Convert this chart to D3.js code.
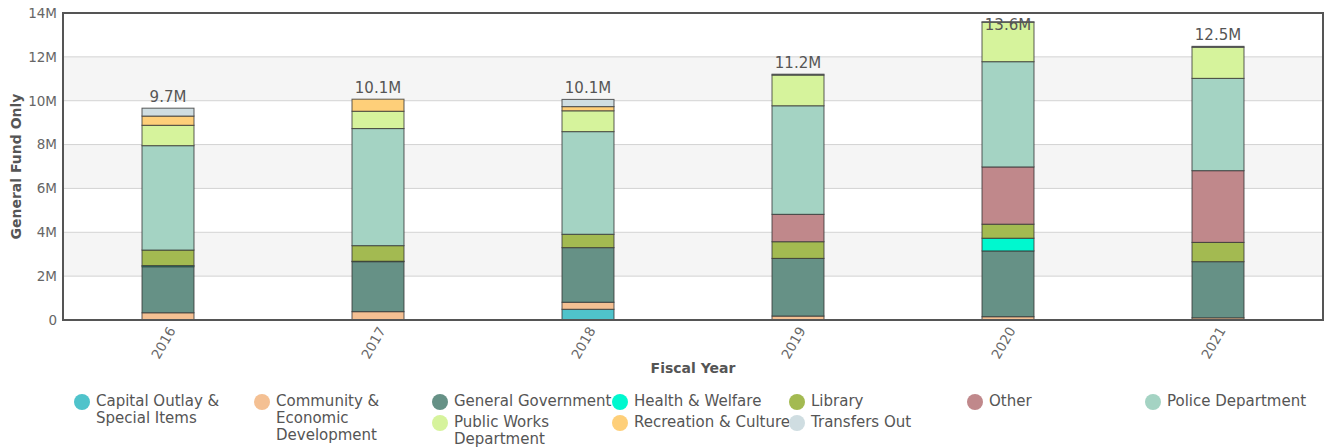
<!DOCTYPE html>
<html><head><meta charset="utf-8">
<script src="https://cdn.jsdelivr.net/npm/d3@7"></script>
<style>
body{margin:0;background:#fff;font-family:"DejaVu Sans",sans-serif;}
svg{display:block}
</style></head>
<body><svg id="c" width="1325" height="447"></svg>
<script>
const years = ["2016","2017","2018","2019","2020","2021"];
const seriesNames = ["Capital Outlay & Special Items","Community & Economic Development","General Government","Health & Welfare","Library","Other","Police Department","Public Works Department","Recreation & Culture","Transfers Out"];
const legendLines = [["Capital Outlay &","Special Items"],["Community &","Economic","Development"],["General Government"],["Health & Welfare"],["Library"],["Other"],["Police Department"],["Public Works","Department"],["Recreation & Culture"],["Transfers Out"]];
const colors = ["#4fc3cb","#f4c093","#669186","#00f8cf","#a3ba51","#c0888b","#a4d3c3","#d6f39c","#fecf79","#cfdde1"];
// values in millions, per year
const capitalOutlay = [0, 0, 0.49, 0, 0, 0];
const community     = [0.33, 0.38, 0.32, 0.18, 0.15, 0.10];
const generalGov    = [2.10, 2.28, 2.49, 2.63, 3.00, 2.56];
const health        = [0.05, 0.02, 0, 0, 0.58, 0];
const library       = [0.71, 0.71, 0.61, 0.76, 0.64, 0.88];
const other         = [0, 0, 0, 1.25, 2.61, 3.27];
const police        = [4.76, 5.34, 4.68, 4.95, 4.80, 4.21];
const publicWorks   = [0.93, 0.79, 0.95, 1.40, 1.80, 1.42];
const recreation    = [0.42, 0.55, 0.19, 0, 0, 0];
const transfers     = [0.36, 0, 0.33, 0.04, 0.02, 0.04];
const yTicks = [0, 2, 4, 6, 8, 10, 12, 14];

const seriesValues = [capitalOutlay, community, generalGov, health, library, other, police, publicWorks, recreation, transfers];
const table = years.map((y, i) => {
  const row = {year: y};
  seriesNames.forEach((n, k) => row[n] = seriesValues[k][i]);
  return row;
});

const svg = d3.select("#c");
const L = 63, R = 1323, T = 13, B = 320;
const x = d3.scaleBand().domain(years).range([L, R]);
const y = d3.scaleLinear().domain([0, 14]).range([B, T]);
const barW = 52;

// bands
const bandG = svg.append("g");
for (let i = 0; i < yTicks.length - 1; i++) {
  if (i % 2 === 1) {
    bandG.append("rect").attr("x", L).attr("width", R - L)
      .attr("y", y(yTicks[i+1])).attr("height", y(yTicks[i]) - y(yTicks[i+1]))
      .attr("fill", "#f5f5f5");
  }
}
// grid
svg.append("g").selectAll("line").data(yTicks.slice(1, -1)).join("line")
  .attr("x1", L).attr("x2", R).attr("y1", d => y(d)).attr("y2", d => y(d))
  .attr("stroke", "#d3d3d3").attr("stroke-width", 1);

// stacks
const stack = d3.stack().keys(seriesNames)(table);
stack.forEach((s, k) => {
  svg.append("g").selectAll("rect").data(s.filter(d => d[1] - d[0] > 0)).join("rect")
    .attr("x", d => x(d.data.year) + x.bandwidth()/2 - barW/2)
    .attr("width", barW)
    .attr("y", d => y(d[1]))
    .attr("height", d => y(d[0]) - y(d[1]))
    .attr("fill", colors[k])
    .attr("stroke", "#333").attr("stroke-opacity", 0.8).attr("stroke-width", 1);
});

// totals
const totals = table.map(r => d3.sum(seriesNames, n => r[n]));
svg.append("g").selectAll("text").data(years).join("text")
  .attr("x", d => x(d) + x.bandwidth()/2)
  .attr("y", (d, i) => Math.max(y(totals[i]) - 6, 30))
  .attr("text-anchor", "middle").attr("font-size", 15).attr("fill", "#555")
  .text((d, i) => d3.format(".1f")(totals[i]) + "M");

// frame
svg.append("rect").attr("x", L).attr("y", T).attr("width", R - L).attr("height", B - T)
  .attr("fill", "none").attr("stroke", "#555").attr("stroke-width", 2);

// y axis labels
const yAxis = d3.axisLeft(y).tickValues(yTicks).tickSize(0).tickPadding(6)
  .tickFormat(d => d === 0 ? "0" : d + "M");
const ya = svg.append("g").attr("transform", `translate(${L},0)`).call(yAxis);
ya.select(".domain").remove();
ya.selectAll("text").attr("font-size", 13.5).attr("fill", "#666").attr("font-family", "DejaVu Sans");

// x axis labels
const xAxis = d3.axisBottom(x).tickSize(0).tickPadding(0);
const xa = svg.append("g").attr("transform", `translate(0,${B})`).call(xAxis);
xa.select(".domain").remove();
xa.selectAll("text").attr("font-size", 13.5).attr("fill", "#666").attr("font-family", "DejaVu Sans")
  .attr("text-anchor", "end").attr("dy", "0.35em")
  .attr("transform", "translate(4,8) rotate(-60)");

// titles
svg.append("text").attr("x", (L + R)/2 - 0).attr("y", 373).attr("text-anchor", "middle")
  .attr("font-size", 14).attr("font-weight", "bold").attr("fill", "#555").text("Fiscal Year");
svg.append("text").attr("transform", `translate(21,${(T + B)/2}) rotate(-90)`).attr("text-anchor", "middle")
  .attr("font-size", 14).attr("font-weight", "bold").attr("fill", "#555").text("General Fund Only");

// legend
const colX = [82, 262, 440, 620, 797, 975, 1153];
const legend = svg.append("g");
seriesNames.forEach((n, k) => {
  const row = k < 7 ? 0 : 1;
  const col = k < 7 ? k : k - 5;
  const cx = colX[col], cy = row === 0 ? 402 : 423;
  const g = legend.append("g");
  g.append("circle").attr("cx", cx).attr("cy", cy).attr("r", 8).attr("fill", colors[k]);
  const t = g.append("text").attr("x", cx + 14).attr("y", cy + 4).attr("font-size", 15).attr("fill", "#555");
  legendLines[k].forEach((ln, j) => t.append("tspan").attr("x", cx + 14).attr("dy", j === 0 ? 0 : 17).text(ln));
});
</script></body></html>
